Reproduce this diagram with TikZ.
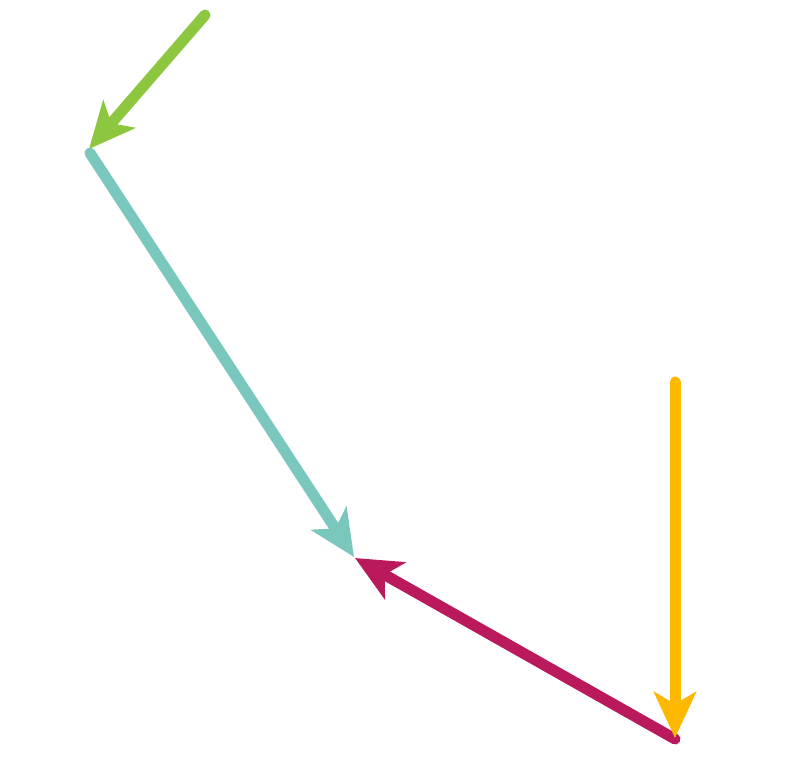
\documentclass[tikz,border=0pt]{standalone}
\usetikzlibrary{arrows.meta}
\definecolor{cgreen}{HTML}{8DC63F}
\definecolor{cteal}{HTML}{7AC7BE}
\definecolor{cmag}{HTML}{BA1A5C}
\definecolor{cyel}{HTML}{FDB900}
\tikzset{
  arr/.style={line width=11pt, line cap=round, -{Stealth[length=46pt, width=42pt, inset=12pt]}}
}
\begin{document}
\begin{tikzpicture}[x=1pt,y=-1pt]
\useasboundingbox (0,0) rectangle (800,756);
\coordinate (g0) at (205,15);
\coordinate (g1) at (89,149);
\coordinate (t0) at (90,153);
\coordinate (t1) at (354,557);
\coordinate (m0) at (675,739);
\coordinate (m1) at (355,558);
\coordinate (y0) at (675,382);
\coordinate (y1) at (675,738);
\draw[arr, cgreen] (g0) -- (g1);
\draw[arr, cteal] (t0) -- (t1);
\draw[arr, cmag] (m0) -- (m1);
\draw[arr, cyel] (y0) -- (y1);
\end{tikzpicture}
\end{document}
